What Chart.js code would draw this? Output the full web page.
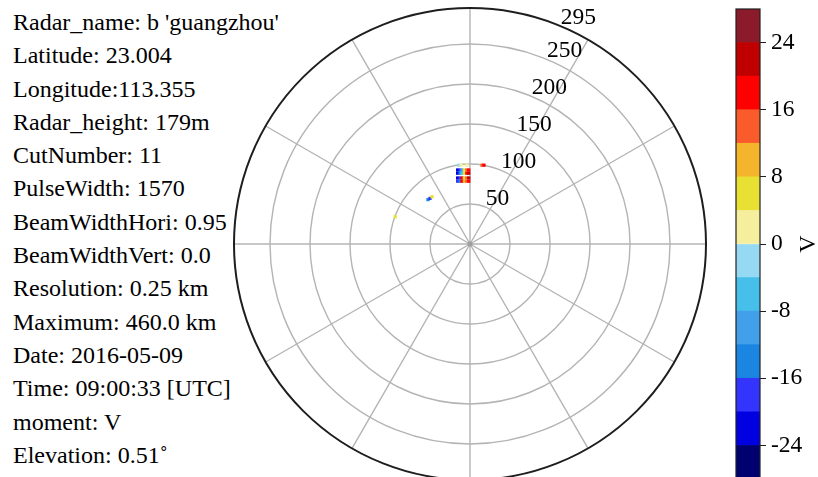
<!DOCTYPE html>
<html>
<head>
<meta charset="utf-8">
<script src="https://cdn.jsdelivr.net/npm/chart.js@4.4.1/dist/chart.umd.min.js"></script>
<style>
  html, body { margin: 0; padding: 0; background: #fff; overflow: hidden; width: 818px; height: 477px; }
  #info {
    position: absolute; left: 13px; top: 6px;
    font-family: "Liberation Serif", "Times New Roman", serif;
    font-size: 24px; line-height: 33.3px; color: #000; white-space: nowrap;
  }
  #polar { position: absolute; left: 220px; top: -6px; }
  #cbar { position: absolute; left: 726px; top: 0px; }
</style>
</head>
<body>
<div id="info"></div>
<canvas id="polar" width="500" height="500"></canvas>
<canvas id="cbar" width="92" height="490"></canvas>
<script>
// header text
const infoLines = [
  "Radar_name: b 'guangzhou'",
  "Latitude: 23.004",
  "Longitude:113.355",
  "Radar_height: 179m",
  "CutNumber: 11",
  "PulseWidth: 1570",
  "BeamWidthHori: 0.95",
  "BeamWidthVert: 0.0",
  "Resolution: 0.25 km",
  "Maximum: 460.0 km",
  "Date: 2016-05-09",
  "Time: 09:00:33 [UTC]",
  "moment: V",
  "Elevation: 0.51˚"
];

// polar grid
const maxRange = 295;
const ringValues = [50, 100, 150, 200, 250];
const ringLabels = [50, 100, 150, 200, 250, 295];
const spokeStep = 30;

// radar gates: x east (km), y north (km), velocity (m/s)
const gateX = [-15.5, -12.5, -10, -7, -4, -1.5,
               -15.5, -12.5, -10, -7, -4, -1.5,
               -15.5, -12.5, -10, -7, -4, -1.5,
               -15.5, -12.5, -10, -7, -4, -1.5,
               -14, -11, -4, 15, 17.5,
               -52.5, -50, -47.5, -93.5];
const gateY = [92.5, 92.5, 92.5, 92.5, 92.5, 92.5,
               88.5, 88.5, 88.5, 88.5, 88.5, 88.5,
               82.5, 82.5, 82.5, 82.5, 82.5, 82.5,
               78.5, 78.5, 78.5, 78.5, 78.5, 78.5,
               98.5, 98.5, 98.5, 98.5, 98.5,
               55.5, 57, 59, 34];
const gateV = [-22, -18, -10, 6, 14, 18,
               -22, -14, -6, 6, 18, 20,
               -22, -18, 18, 6, 12, 20,
               -20, -16, 18, 10, 14, 18,
               -2, 2, 2, 14, 18,
               -14, -18, 6, 6];

// colour bar
const levels = [-28, -24, -20, -16, -12, -8, -4, 0, 4, 8, 12, 16, 20, 24, 28];
const levelColors = ['#00006e', '#0000e0', '#3434ff', '#1a86e2', '#42a0ea', '#46c0ea', '#96d9f2',
                     '#f5ee9c', '#e8e134', '#f4b52c', '#f95c2a', '#ff0000', '#c00000', '#8b1a2a'];
const cbTicks = [-24, -16, -8, 0, 8, 16, 24];
const serif = '"Liberation Serif", "Times New Roman", serif';

document.getElementById('info').innerHTML = infoLines.map(s => '<div>' + s.replace(/&/g, '&amp;').replace(/</g, '&lt;') + '</div>').join('');

function colorFor(v) {
  for (let i = 0; i < levelColors.length; i++) {
    if (v >= levels[i] && v < levels[i + 1]) return levelColors[i];
  }
  return v < levels[0] ? levelColors[0] : levelColors[levelColors.length - 1];
}

const polarGrid = {
  id: 'polarGrid',
  beforeDatasetsDraw(chart) {
    const ctx = chart.ctx;
    const xs = chart.scales.x, ys = chart.scales.y;
    const cx = xs.getPixelForValue(0), cy = ys.getPixelForValue(0);
    const rad = v => xs.getPixelForValue(v) - cx;
    const R = rad(maxRange);
    ctx.save();
    ctx.strokeStyle = '#b4b4b4';
    ctx.lineWidth = 1.4;
    ringValues.forEach(v => {
      ctx.beginPath();
      ctx.arc(cx, cy, rad(v), 0, 2 * Math.PI);
      ctx.stroke();
    });
    for (let a = 0; a < 360; a += spokeStep) {
      const t = a * Math.PI / 180;
      ctx.beginPath();
      ctx.moveTo(cx, cy);
      ctx.lineTo(cx + R * Math.cos(t), cy - R * Math.sin(t));
      ctx.stroke();
    }
    ctx.fillStyle = '#a0a0a0';
    ctx.beginPath();
    ctx.arc(cx, cy, 2.5, 0, 2 * Math.PI);
    ctx.fill();
    ctx.strokeStyle = '#1e1e1e';
    ctx.lineWidth = 2;
    ctx.beginPath();
    ctx.arc(cx, cy, R, 0, 2 * Math.PI);
    ctx.stroke();
    ctx.restore();
  },
  afterDraw(chart) {
    const ctx = chart.ctx;
    const xs = chart.scales.x, ys = chart.scales.y;
    const cx = xs.getPixelForValue(0), cy = ys.getPixelForValue(0);
    const t = 67.5 * Math.PI / 180;
    ctx.save();
    ctx.font = '23.5px ' + serif;
    ctx.fillStyle = '#000';
    ctx.textAlign = 'left';
    ctx.textBaseline = 'middle';
    ringLabels.forEach(v => {
      const r = xs.getPixelForValue(v) - cx;
      ctx.fillText(String(v), cx + r * Math.cos(t) + 0.5, cy - r * Math.sin(t) - 8.5);
    });
    ctx.restore();
  }
};

new Chart(document.getElementById('polar'), {
  type: 'scatter',
  data: {
    datasets: [{
      data: gateX.map((x, i) => ({ x: x, y: gateY[i], v: gateV[i] })),
      pointStyle: 'rect',
      pointRadius: 2.3,
      borderWidth: 0,
      backgroundColor: c => colorFor(c.raw ? c.raw.v : 0)
    }]
  },
  options: {
    responsive: false,
    animation: false,
    devicePixelRatio: 1,
    layout: { padding: 14 },
    plugins: { legend: { display: false }, tooltip: { enabled: false } },
    scales: {
      x: { display: false, min: -maxRange, max: maxRange },
      y: { display: false, min: -maxRange, max: maxRange }
    }
  },
  plugins: [polarGrid]
});

const cbarFrame = {
  id: 'cbarFrame',
  afterDraw(chart) {
    const ctx = chart.ctx;
    const a = chart.chartArea;
    const ys = chart.scales.y;
    ctx.save();
    ctx.strokeStyle = '#222';
    ctx.lineWidth = 1.2;
    ctx.strokeRect(a.left, a.top, a.right - a.left, a.bottom - a.top);
    ctx.translate(809 - 726, ys.getPixelForValue(0));
    ctx.rotate(-Math.PI / 2);
    ctx.font = '24px ' + serif;
    ctx.fillStyle = '#000';
    ctx.textAlign = 'center';
    ctx.textBaseline = 'middle';
    ctx.fillText('V', 0, 0);
    ctx.restore();
  }
};

new Chart(document.getElementById('cbar'), {
  type: 'bar',
  data: {
    labels: ['V'],
    datasets: levelColors.map((c, i) => ({
      data: [[levels[i], levels[i + 1]]],
      backgroundColor: c,
      borderWidth: 0,
      grouped: false,
      barPercentage: 1,
      categoryPercentage: 1
    }))
  },
  options: {
    responsive: false,
    animation: false,
    devicePixelRatio: 1,
    layout: { padding: { left: 10, top: 9, bottom: 11, right: 8 } },
    plugins: { legend: { display: false }, tooltip: { enabled: false } },
    scales: {
      x: { display: false },
      y: {
        position: 'right',
        min: levels[0],
        max: levels[levels.length - 1],
        afterBuildTicks: s => { s.ticks = cbTicks.map(v => ({ value: v })); },
        afterFit: s => { s.width = 50; s.paddingTop = 0; s.paddingBottom = 0; },
        border: { display: false },
        grid: { display: true, drawOnChartArea: false, drawTicks: true, tickLength: 6, color: '#222', lineWidth: 1 },
        ticks: { color: '#000', padding: 5, font: { family: serif, size: 23.5 } }
      }
    }
  },
  plugins: [cbarFrame]
});
</script>
</body>
</html>
